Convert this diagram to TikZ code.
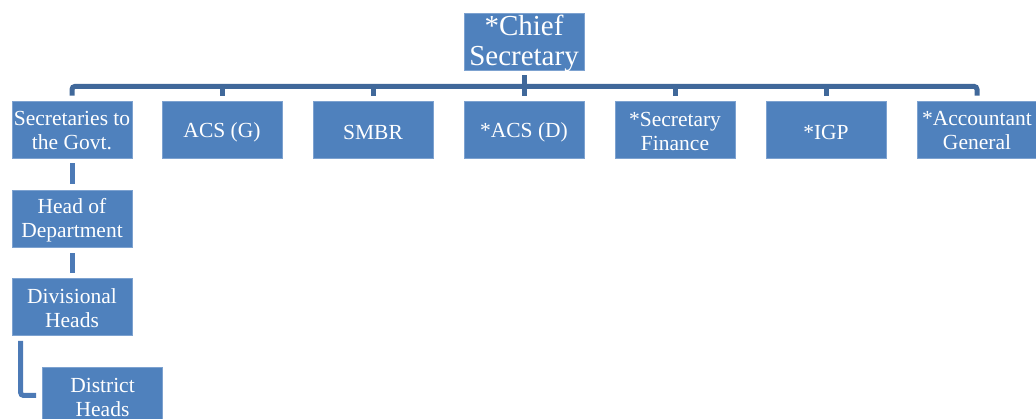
\documentclass[tikz,border=0pt]{standalone}
\usepackage{fontspec}
\setmainfont{Liberation Serif}
\usetikzlibrary{calc}
\definecolor{boxfill}{RGB}{79,129,189}
\definecolor{boxline}{RGB}{125,162,208}
\definecolor{busline}{RGB}{64,104,154}
\definecolor{colline}{RGB}{76,122,182}
\newcommand{\lowtext}[1]{\vphantom{#1}\smash{\raisebox{-3pt}{#1}}}
\newcommand{\lowline}[1]{\vphantom{#1}\smash{\raisebox{-1.5pt}{#1}}}
\tikzset{
  orgbox/.style={rectangle, fill=boxfill, draw=boxline, line width=0.8pt,
    minimum width=120pt, minimum height=57pt, inner sep=0pt, align=center,
    text=white, font=\fontsize{21.5}{24}\selectfont},
  topbox/.style={orgbox, minimum height=57pt, font=\fontsize{29}{30}\selectfont},
  bus/.style={draw=busline, line width=5pt, rounded corners=3pt},
  colconn/.style={draw=colline, line width=5pt, rounded corners=3pt}
}
\begin{document}
\begin{tikzpicture}[x=1pt,y=-1pt]
\useasboundingbox (0,0) rectangle (1036,419);
\clip (0,0) rectangle (1036,419);
\node[topbox] (chief) at (524,41.5) {\lowline{*Chief}\\\lowline{Secretary}};
\node[orgbox] (sec)  at (72,129.5)  {\lowline{Secretaries to}\\\lowline{the Govt.}};
\node[orgbox] (acsg) at (222,129.5) {\lowtext{ACS (G)}};
\node[orgbox] (smbr) at (373,129.5) {\lowtext{SMBR}};
\node[orgbox] (acsd) at (524,129.5) {\lowtext{*ACS (D)}};
\node[orgbox] (secf) at (675,129.5) {\lowline{*Secretary}\\\lowline{Finance}};
\node[orgbox] (igp)  at (826,129.5) {\lowtext{*IGP}};
\node[orgbox] (acc)  at (977,129.5) {\lowline{*Accountant}\\\lowline{General}};
\node[orgbox] (hod)  at (72,218.5) {\lowline{Head of}\\\lowline{Department}};
\node[orgbox] (div)  at (72,307)   {\lowline{Divisional}\\\lowline{Heads}};
\node[orgbox] (dist) at (102.5,395.5) {\lowline{District}\\\lowline{Heads}};
% bus
\draw[bus] ($(sec.north)+(0,-5)$) |- ($(chief.south)+(0,16)$) -| ($(acc.north)+(0,-5)$);
\draw[bus] ($(chief.south)+(0,5)$) -- ($(acsd.north)+(0,-5)$);
\foreach \n in {acsg,smbr,secf,igp}
  \draw[bus] ($(\n.north)+(0,-5)$) -- ($(\n.north)+(0,-17)$);
% left column
\draw[colconn] ($(sec.south)+(0,5)$) -- ($(hod.north)+(0,-6)$);
\draw[colconn] ($(hod.south)+(0,6)$) -- ($(div.north)+(0,-5)$);
\draw[colconn] ($(div.south west)+(9,5)$) |- ($(dist.west)+(-6,0)$);
\end{tikzpicture}
\end{document}
